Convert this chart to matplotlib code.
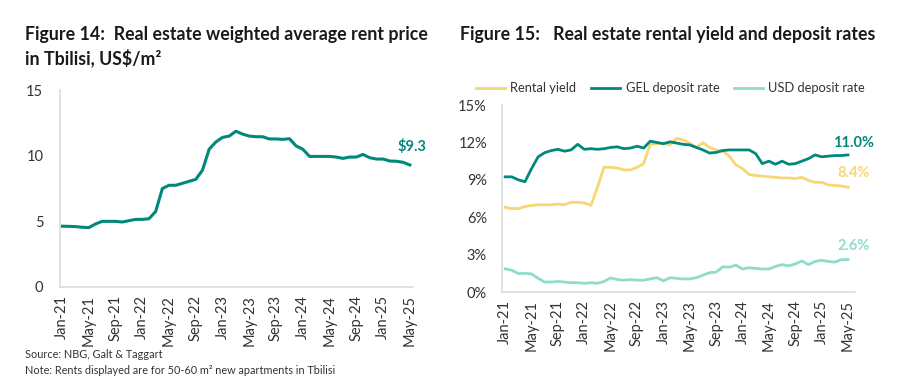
import matplotlib.pyplot as plt

# monthly data, Jan-21 .. May-25
months = ["Jan-21", "May-21", "Sep-21", "Jan-22", "May-22", "Sep-22", "Jan-23",
          "May-23", "Sep-23", "Jan-24", "May-24", "Sep-24", "Jan-25", "May-25"]

rent_price = [4.63, 4.62, 4.6, 4.55, 4.52, 4.8, 5.0, 5.0, 5.0, 4.95, 5.05, 5.15,
              5.15, 5.2, 5.75, 7.5, 7.75, 7.75, 7.9, 8.05, 8.2, 8.9, 10.5, 11.05,
              11.4, 11.5, 11.87, 11.65, 11.5, 11.45, 11.45, 11.28, 11.28, 11.25, 11.3, 10.75,
              10.5, 9.95, 9.95, 9.95, 9.95, 9.9, 9.8, 9.9, 9.9, 10.1, 9.85, 9.75,
              9.75, 9.6, 9.58, 9.5, 9.3]

rental_yield = [6.79, 6.7, 6.7, 6.85, 6.95, 7.0, 7.0, 7.0, 7.05, 7.0, 7.2, 7.2,
                7.15, 6.95, 8.4, 10.02, 10.0, 9.95, 9.8, 9.8, 10.0, 10.3, 11.85, 11.9,
                11.95, 11.8, 12.33, 12.2, 11.95, 11.6, 11.98, 11.6, 11.4, 11.3, 10.9, 10.2,
                9.9, 9.43, 9.35, 9.3, 9.25, 9.2, 9.15, 9.15, 9.1, 9.2, 8.95, 8.8,
                8.8, 8.6, 8.55, 8.5, 8.4]

gel_deposit = [9.24, 9.24, 9.0, 8.85, 9.9, 10.85, 11.18, 11.35, 11.45, 11.3, 11.4, 11.85,
               11.45, 11.5, 11.45, 11.5, 11.6, 11.65, 11.5, 11.55, 11.7, 11.55, 12.1, 12.0,
               11.9, 12.05, 11.95, 11.85, 11.8, 11.6, 11.4, 11.15, 11.2, 11.35, 11.4, 11.4,
               11.4, 11.4, 11.1, 10.3, 10.5, 10.25, 10.5, 10.25, 10.3, 10.5, 10.7, 11.0,
               10.85, 10.9, 10.95, 10.95, 11.0]

usd_deposit = [1.86, 1.75, 1.48, 1.5, 1.45, 1.1, 0.8, 0.8, 0.85, 0.8, 0.75, 0.75,
               0.7, 0.75, 0.7, 0.85, 1.13, 1.0, 0.95, 1.0, 0.95, 0.95, 1.05, 1.15,
               0.9, 1.15, 1.1, 1.05, 1.05, 1.15, 1.35, 1.55, 1.6, 2.02, 2.0, 2.15,
               1.85, 1.95, 1.9, 1.85, 1.85, 2.05, 2.2, 2.1, 2.25, 2.5, 2.2, 2.45,
               2.55, 2.45, 2.4, 2.6, 2.6]

DARK = "#00897b"
YELLOW = "#f7d774"
LIGHT = "#8fdccd"
AXIS = "#dcdcdc"
TXT = "#333333"

plt.rcParams["font.family"] = ["Lato", "DejaVu Sans"]

fig = plt.figure(figsize=(9, 3.92), dpi=100)
ax1 = fig.add_axes([0.0667, 0.268, 0.392, 0.502])
ax2 = fig.add_axes([0.558, 0.255, 0.392, 0.477])

x = list(range(len(rent_price)))
tick_pos = list(range(0, len(rent_price), 4))


def style(ax):
    for s in ("top", "right"):
        ax.spines[s].set_visible(False)
    for s in ("left", "bottom"):
        ax.spines[s].set_color(AXIS)
        ax.spines[s].set_linewidth(1.2)
    ax.tick_params(length=0, labelsize=10.5, labelcolor=TXT, pad=6)
    ax.set_xticks(tick_pos)
    ax.set_xticklabels(months, rotation=90)


# left chart
ax1.plot(x, rent_price, color=DARK, lw=2.2)
ax1.set_xlim(-0.3, 52.45)
ax1.set_ylim(0, 15)
ax1.set_yticks([0, 5, 10, 15])
style(ax1)
ax1.tick_params(axis="y", pad=12)
ax1.annotate(f"${rent_price[-1]}", (x[-1], rent_price[-1]), xytext=(2, 18),
             textcoords="offset pixels", ha="center", va="center",
             color=DARK, fontsize=10.5, fontweight="bold")

# right chart
ax2.plot(x, rental_yield, color=YELLOW, lw=2, label="Rental yield")
ax2.plot(x, gel_deposit, color=DARK, lw=2, label="GEL deposit rate")
ax2.plot(x, usd_deposit, color=LIGHT, lw=2, label="USD deposit rate")
ax2.set_xlim(-0.45, 53.06)
ax2.set_ylim(0, 15)
ax2.set_yticks([0, 3, 6, 9, 12, 15])
ax2.set_yticklabels([f"{v}%" for v in [0, 3, 6, 9, 12, 15]])
style(ax2)
ax2.tick_params(axis="y", pad=11)
ax2.legend(loc="lower left", bbox_to_anchor=(-0.09, 1.03), ncol=3, frameon=False,
           fontsize=9.3, handlelength=2.3, columnspacing=1.1, handletextpad=0.4,
           borderaxespad=0, labelcolor=TXT)
for vals, col, dy in [(gel_deposit, DARK, 12), (rental_yield, YELLOW, 14), (usd_deposit, LIGHT, 14)]:
    ax2.annotate(f"{vals[-1]:.1f}%", (x[-1], vals[-1]), xytext=(6, dy),
                 textcoords="offset pixels", ha="center", va="center",
                 color=col, fontsize=10.5, fontweight="bold")

# titles and notes
fig.text(0.028, 0.911, "Figure 14:  Real estate weighted average rent price",
         fontsize=12.8, fontweight="bold", color="#1a1a1a", va="center")
fig.text(0.028, 0.852, "in Tbilisi, US$/m²",
         fontsize=12.8, fontweight="bold", color="#1a1a1a", va="center")
fig.text(0.511, 0.911, "Figure 15:   Real estate rental yield and deposit rates",
         fontsize=12.8, fontweight="bold", color="#1a1a1a", va="center")
fig.text(0.028, 0.095, "Source: NBG, Galt & Taggart", fontsize=7.8, color=TXT, va="center")
fig.text(0.028, 0.055, "Note: Rents displayed are for 50-60 m² new apartments in Tbilisi",
         fontsize=7.8, color=TXT, va="center")

fig.savefig("out.png", dpi=100)
